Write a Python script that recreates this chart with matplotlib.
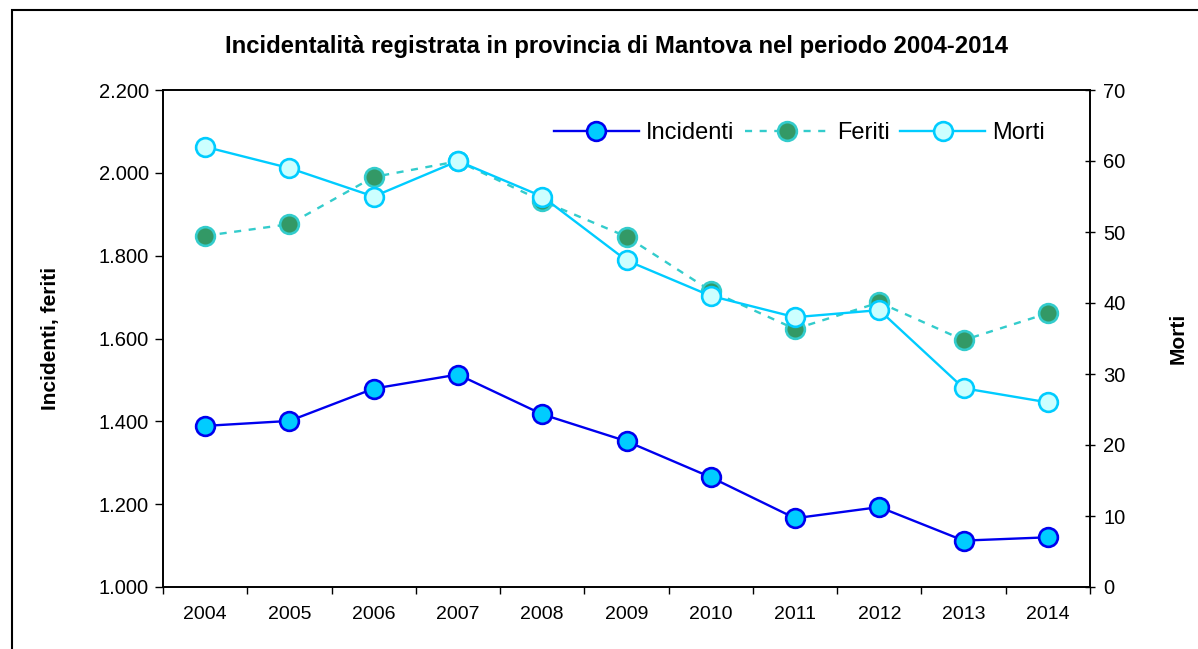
import matplotlib
matplotlib.use("Agg")
import matplotlib.pyplot as plt
from matplotlib.patches import Rectangle
from matplotlib.ticker import FuncFormatter, FixedLocator

plt.rcParams['font.family'] = ['Liberation Sans', 'DejaVu Sans']

years = ["2004", "2005", "2006", "2007", "2008", "2009", "2010", "2011", "2012", "2013", "2014"]
incidenti = [1389, 1401, 1479, 1513, 1417, 1352, 1265, 1166, 1193, 1112, 1120]
feriti = [1848, 1876, 1990, 2028, 1932, 1846, 1715, 1623, 1687, 1596, 1661]
morti = [62, 59, 55, 60, 55, 46, 41, 38, 39, 28, 26]

W, H = 1198, 649
fig = plt.figure(figsize=(W / 100, H / 100), dpi=100)
ax = fig.add_axes([163 / W, 1 - 587 / H, (1090 - 163) / W, (587 - 90) / H])
ax2 = ax.twinx()

x = list(range(len(years)))

ms = 13.5
l1, = ax.plot(x, incidenti, color='#0000EE', lw=1.7, marker='o', ms=ms,
              mfc='#00CCFF', mec='#0000EE', mew=1.9, label='Incidenti', zorder=3)
l2, = ax.plot(x, feriti, color='#33CCCC', lw=1.7, ls=(0, (3, 3.2)), marker='o', ms=ms,
              mfc='#339966', mec='#33CCCC', mew=1.9, label='Feriti', zorder=3)
l3, = ax2.plot(x, morti, color='#00CCFF', lw=1.7, marker='o', ms=ms,
               mfc='#CCFFFF', mec='#00CCFF', mew=1.9, label='Morti', zorder=3)

ax.set_xlim(-0.5, len(years) - 0.5)
ax.set_ylim(1000, 2200)
ax2.set_ylim(0, 70)

ax.set_yticks([1000, 1200, 1400, 1600, 1800, 2000, 2200])
ax.yaxis.set_major_formatter(FuncFormatter(lambda v, p: f"{int(v):,}".replace(",", ".")))
ax2.set_yticks([0, 10, 20, 30, 40, 50, 60, 70])

ax.set_xticks(x)
ax.set_xticklabels(years)
ax.xaxis.set_minor_locator(FixedLocator([i - 0.5 for i in range(len(years) + 1)]))
ax.tick_params(axis='x', which='major', length=0, labelsize=14, pad=14)
ax.tick_params(axis='x', which='minor', length=5, width=1, direction='out')
ax.tick_params(axis='y', length=6, width=1, direction='out', labelsize=14.5, pad=4)
ax2.tick_params(axis='y', length=7, width=1, direction='inout', labelsize=14.5, pad=6)

for a in (ax, ax2):
    for s in a.spines.values():
        s.set_linewidth(1.2)

ax.set_ylabel("Incidenti, feriti", fontsize=15, fontweight='bold', labelpad=28)
ax2.set_ylabel("Morti", fontsize=15, fontweight='bold', labelpad=31)

fig.text(616 / W, 1 - 46 / H, "Incidentalità registrata in provincia di Mantova nel periodo 2004-2014",
         ha='center', va='center', fontsize=17.2, fontweight='bold')

leg = ax2.legend([l1, l2, l3], ['Incidenti', 'Feriti', 'Morti'], ncol=3, frameon=False,
                 loc='upper right', bbox_to_anchor=((1043 - 163 + 2) / (1090 - 163), 1 - 32 / 497),
                 fontsize=17, borderpad=0, borderaxespad=0,
                 handlelength=3.6, handletextpad=0.3, columnspacing=0.45)

fig.patches.append(Rectangle((12 / W, -0.2), 1.2, 1.2 - 10 / H, transform=fig.transFigure,
                             fill=False, ec='black', lw=1.5))

fig.savefig("out.png", dpi=100)
